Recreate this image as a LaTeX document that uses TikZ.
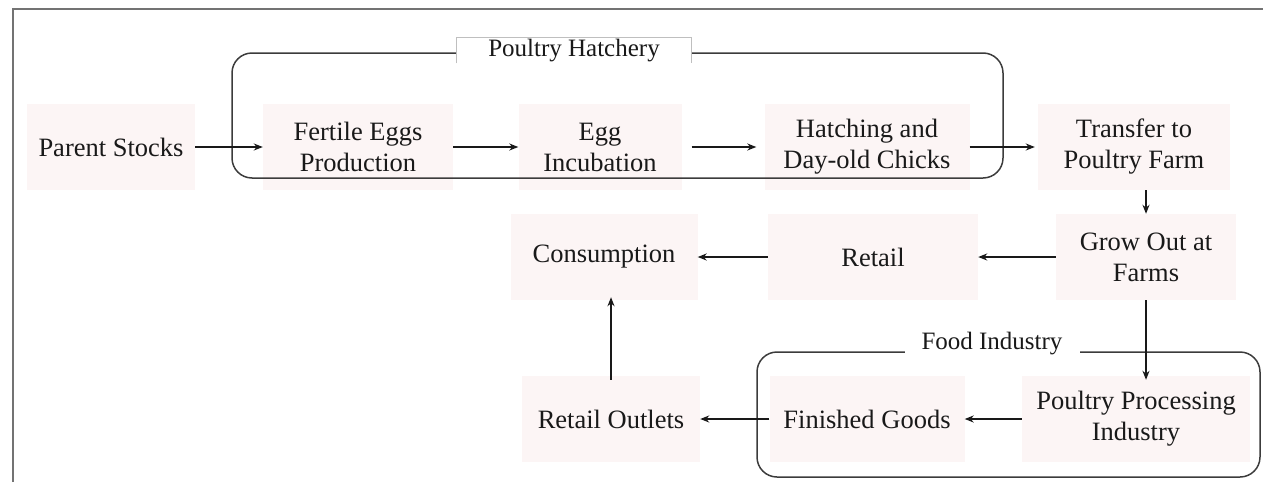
\documentclass[tikz,border=0pt]{standalone}
\usepackage{fontspec}
\setmainfont{Liberation Serif}
\usetikzlibrary{arrows.meta}
\definecolor{pinkbg}{RGB}{252,245,245}
\definecolor{ink}{RGB}{25,25,25}
\begin{document}
\begin{tikzpicture}[x=1pt,y=-1pt,
  stage/.style={fill=pinkbg, draw=none, minimum height=86pt, inner sep=0pt, align=center,
    font=\fontsize{26.5}{31}\selectfont, text=ink},
  arr/.style={draw=ink, line width=1.8pt, -{Stealth[length=9pt,width=7pt]}},
  group/.style={draw=ink!85, line width=1.5pt, rounded corners=20pt},
  grouplabel/.style={fill=white, font=\fontsize{25}{30}\selectfont, text=ink, inner sep=0pt}]
\useasboundingbox (0,0) rectangle (1263,482);
\draw[line width=2pt, draw=black!55] (13,482) -- (13,9) -- (1263,9);

% stages
\node[stage, minimum width=168pt] (ps) at (111,147) {Parent Stocks};
\node[stage, minimum width=190pt] (fe) at (358,147) {Fertile Eggs\\Production};
\node[stage, minimum width=163pt] (ei) at (600,147) {Egg\\Incubation};
\node[stage, minimum width=205pt] (hc) at (867,147) {Hatching and\\Day-old Chicks};
\node[stage, minimum width=192pt] (tf) at (1134,147) {Transfer to\\Poultry Farm};
\node[stage, minimum width=180pt] (go) at (1146,257) {Grow Out at\\Farms};
\node[stage, minimum width=210pt] (re) at (873,257) {Retail};
\node[stage, minimum width=187pt] (co) at (604,257) {Consumption};
\node[stage, minimum width=178pt] (ro) at (611,419) {Retail Outlets};
\node[stage, minimum width=195pt] (fg) at (867,419) {Finished Goods};
\node[stage, minimum width=228pt] (pp) at (1136,419) {Poultry Processing\\Industry};

% groups
\draw[group] (232,53) rectangle (1003,178);
\draw[group] (757,352) rectangle (1260,477);
\node[grouplabel, minimum width=235pt, minimum height=26pt, anchor=north] (hl) at (574,37) {Poultry Hatchery};
\draw[black!25, line width=1pt] (hl.south west) -- (hl.north west) -- (hl.north east) -- (hl.south east);
\node[grouplabel, minimum width=175pt, minimum height=24pt] (fl) at (992,344) {Food Industry};

% connectors
\draw[arr] (ps.east) -- (fe.west);
\draw[arr] (fe.east) -- (ei.west);
\draw[arr] ([xshift=10pt]ei.east) -- ([xshift=-8pt]hc.west);
\draw[arr] (hc.east) -- ([xshift=-3pt]tf.west);
\draw[arr] (tf.south -| go.north) -- (go.north);
\draw[arr] (go.west) -- (re.east);
\draw[arr] (re.west) -- (co.east);
\draw[arr] (go.south) -- ([yshift=-4pt]go.south |- pp.north);
\draw[arr] (pp.west) -- (fg.east);
\draw[arr] (fg.west) -- (ro.east);
\draw[arr] ([yshift=-4pt]ro.north) -- ([yshift=3pt]ro.north |- co.south);
\end{tikzpicture}
\end{document}
